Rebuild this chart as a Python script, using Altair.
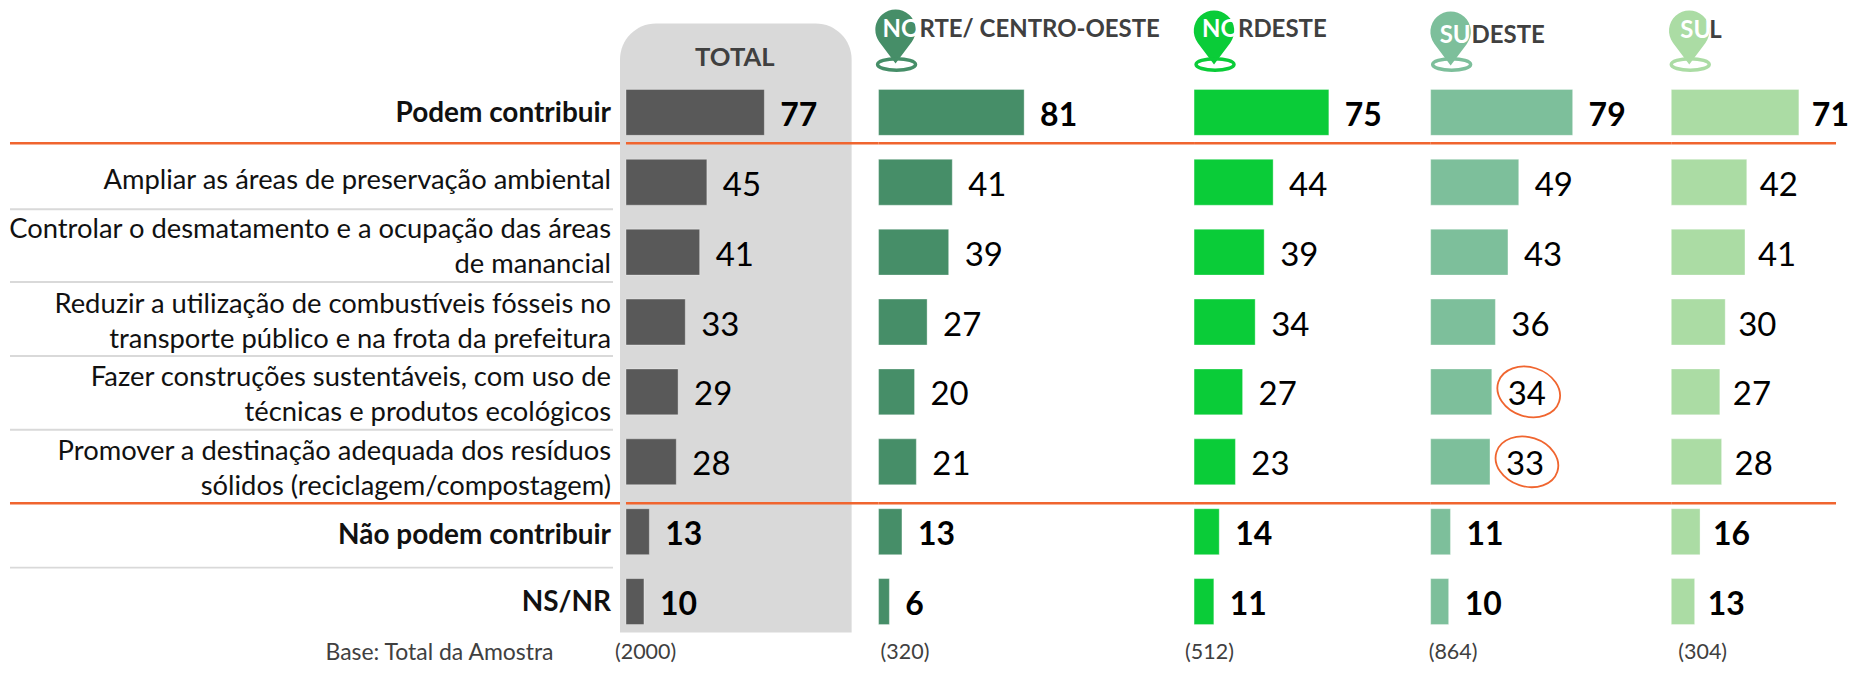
import altair as alt
import pandas as pd

rows = ["Podem contribuir", "Ampliar", "Controlar", "Reduzir", "Fazer", "Promover", "Não podem", "NS/NR"]
row_labels = [
    "Podem contribuir",
    "Ampliar as áreas de preservação ambiental",
    "Controlar o desmatamento e a ocupação das áreas\nde manancial",
    "Reduzir a utilização de combustíveis fósseis no\ntransporte público e na frota da prefeitura",
    "Fazer construções sustentáveis, com uso de\ntécnicas e produtos ecológicos",
    "Promover a destinação adequada dos resíduos\nsólidos (reciclagem/compostagem)",
    "Não podem contribuir",
    "NS/NR",
]
total = [77, 45, 41, 33, 29, 28, 13, 10]
norte = [81, 41, 39, 27, 20, 21, 13, 6]
nordeste = [75, 44, 39, 34, 27, 23, 14, 11]
sudeste = [79, 49, 43, 36, 34, 33, 11, 10]
sul = [71, 42, 41, 30, 27, 28, 16, 13]
bases = ["(2000)", "(320)", "(512)", "(864)", "(304)"]
bold_rows = ["Podem contribuir", "Não podem", "NS/NR"]
highlight_rows = ["Fazer", "Promover"]

# ---- layout / style (page pixels) ----
FONT = "Lato"
TOP = 8
LEFT = 8
PX_PER_UNIT = 1.8
H = 657
BASE_Y = 654
DARK = "#404040"
ORANGE = "#F0652F"
GREY = "#D9D9D9"
# first-line centre of each row label
LABEL_FIRST_LINE = [114, 181, 230, 305, 378, 452, 536, 603]
SEPARATORS = [209, 282, 356, 430, 568]
ORANGE_Y = [143, 503.5]
PIN = "M0,1 L-0.6,0.2 A0.75,0.75 0 1 1 0.6,0.2 Z"
RING = "M-1,0 A1,0.3 0 1 1 1,0 A1,0.3 0 1 1 -1,0 Z"
OVAL = "M-1,0 A1,0.77 0 1 1 1,0 A1,0.77 0 1 1 -1,0 Z"

y_scale = alt.Scale(domain=rows, range=[77 - TOP, 637 - TOP], paddingInner=24 / 70, paddingOuter=12 / 70)
one = pd.DataFrame({"a": [0]})


def rule(y, x0, x1, color, width):
    return alt.Chart(one).mark_rule(color=color, strokeWidth=width).encode(
        x=alt.value(x0), x2=alt.value(x1), y=alt.value(y - TOP))


def text(s, x, y, color, size, weight="normal", align="left", baseline="middle"):
    return alt.Chart(one).mark_text(
        font=FONT, fontSize=size, fontWeight=weight, color=color, align=align, baseline=baseline
    ).encode(x=alt.value(x), y=alt.value(y - TOP), text=alt.value(s))


def panel(values, base, left, width, color, header, pin=None, base_x=0, orange_end=None, backdrop=None, ovals=False, dx=16):
    df = pd.DataFrame({"row": rows, "v": values})
    x = alt.X("v:Q", scale=alt.Scale(domain=[0, width / PX_PER_UNIT], range=[0, width], nice=False), axis=None)
    y = alt.Y("row:N", scale=y_scale, axis=None)
    layers = []
    if backdrop:
        layers.append(backdrop)
    for oy in ORANGE_Y:
        layers.append(rule(oy, 0, width if orange_end is None else orange_end, ORANGE, 2.6))
    layers.append(alt.Chart(df).mark_bar(color=color, stroke="#ffffff", strokeOpacity=0.35, strokeWidth=1).encode(x=x, y=y))
    for weight, size in (("bold", 32), ("normal", 33)):
        d = df[df["row"].isin(bold_rows)] if weight == "bold" else df[~df["row"].isin(bold_rows)]
        layers.append(alt.Chart(d).mark_text(
            font=FONT, fontSize=size, fontWeight=weight, color="#000000", align="left", baseline="middle", dx=dx, dy=3.5
        ).encode(x=x, y=y, text="v:Q"))
    if ovals:
        d = df[df["row"].isin(highlight_rows)]
        layers.append(alt.Chart(d).mark_point(
            shape=OVAL, size=64 * 64, angle=18, filled=False, stroke=ORANGE, strokeWidth=1.8, opacity=1, xOffset=37
        ).encode(x=x, y=y))
    if pin:
        px, py, ry = pin
        layers.append(alt.Chart(one).mark_point(shape=PIN, size=54 * 54, filled=True, fill=color, strokeWidth=0, opacity=1)
                      .encode(x=alt.value(px - left), y=alt.value(py - TOP)))
        layers.append(alt.Chart(one).mark_point(shape=RING, size=38 * 38, filled=False, stroke=color, strokeWidth=3.5, opacity=1)
                      .encode(x=alt.value(px + 1 - left), y=alt.value(ry - TOP)))
    for s, hx, hy, hc, hw, hs, ha in header:
        layers.append(text(s, hx - left, hy, hc, hs, hw, ha))
    layers.append(text(base, base_x, BASE_Y, DARK, 21.5))
    return alt.layer(*layers).properties(width=width, height=H)


# Label panel
label_df = pd.DataFrame({"t": row_labels, "row": rows, "ly": [c - TOP for c in LABEL_FIRST_LINE]})
lw = 625 - LEFT
label_layers = [rule(oy, 0, lw, ORANGE, 2.6) for oy in ORANGE_Y]
label_layers += [rule(sy, 0, 604, GREY, 2) for sy in SEPARATORS]
for weight, size, d in (("bold", 28, label_df[label_df["row"].isin(bold_rows)]),
                        ("normal", 27.4, label_df[~label_df["row"].isin(bold_rows)])):
    label_layers.append(alt.Chart(d).mark_text(
        font=FONT, fontSize=size, fontWeight=weight, color="#111111", align="right", baseline="middle",
        lineBreak="\n", lineHeight=35
    ).encode(x=alt.value(602), y=alt.Y("ly:Q", scale=None), text="t:N"))
label_layers.append(text("Base: Total da Amostra", 324 - LEFT, BASE_Y, DARK, 23))
label_panel = alt.layer(*label_layers).properties(width=lw, height=H)

backdrop = alt.Chart(one).mark_rect(
    color=GREY, cornerRadiusTopLeft=36, cornerRadiusTopRight=36
).encode(x=alt.value(619 - 625), x2=alt.value(851 - 625), y=alt.value(23 - TOP), y2=alt.value(633 - TOP))

W = "#FFFFFF"
charts = [
    label_panel,
    panel(total, bases[0], 625, 253, "#595959",
          [("TOTAL", 734, 58, DARK, "bold", 25.7, "center")], base_x=-11, backdrop=backdrop),
    panel(norte, bases[1], 878, 316, "#468E68",
          [("NO", 882, 30, W, "bold", 24, "left"), ("RTE/ CENTRO-OESTE", 919, 30, DARK, "bold", 24, "left")],
          pin=(895, 36, 64), base_x=2),
    panel(nordeste, bases[2], 1194, 237, "#0ACC38",
          [("NO", 1202, 30, W, "bold", 24, "left"), ("RDESTE", 1238, 30, DARK, "bold", 24, "left")],
          pin=(1214, 37, 64), base_x=-9),
    panel(sudeste, bases[3], 1431, 241, "#7DBF9B",
          [("SU", 1440, 36, W, "bold", 24, "left"), ("DESTE", 1472, 36, DARK, "bold", 24, "left")],
          pin=(1451, 38, 64), base_x=-2, ovals=True),
    panel(sul, bases[4], 1672, 177, "#ABDCA4",
          [("SU", 1681, 31, W, "bold", 24, "left"), ("L", 1710, 31, DARK, "bold", 24, "left")],
          pin=(1690, 37, 64), base_x=7, orange_end=165, dx=13),
]

chart = alt.hconcat(*charts, spacing=0, bounds="flush").properties(padding=0).configure_view(stroke=None)
chart.save("out.html", embed_options={"renderer": "svg", "actions": False})
